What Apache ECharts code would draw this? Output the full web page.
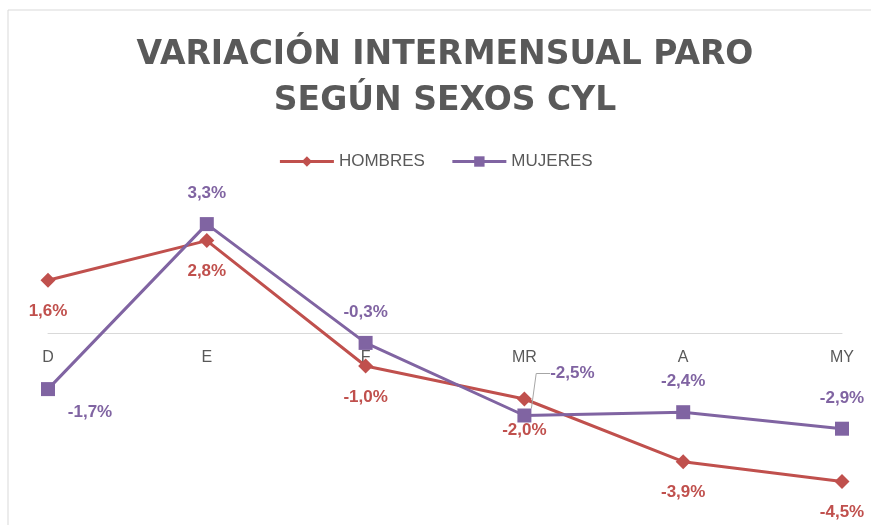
<!DOCTYPE html>
<html>
<head>
<meta charset="utf-8">
<script src="https://cdn.jsdelivr.net/npm/echarts@6/dist/echarts.min.js"></script>
<style>
  html, body { margin: 0; padding: 0; background: #fff; }
  #main { width: 871px; height: 525px; }
</style>
</head>
<body>
<div id="main"></div>
<script>
var months = ['D', 'E', 'F', 'MR', 'A', 'MY'];
var hombres = [1.6, 2.8, -1.0, -2.0, -3.9, -4.5];
var mujeres = [-1.7, 3.3, -0.3, -2.5, -2.4, -2.9];

var RED = '#c0504d';
var PURPLE = '#8064a2';
var GREY = '#595959';

function pct(p) {
  return p.value.toFixed(1).replace('.', ',') + '%';
}

// mujeres labels: most above the point, a couple pushed aside
var mujeresData = mujeres.map(function (v, i) {
  var item = { value: v };
  if (i === 0 || i === 3) {
    item.label = { position: 'inside' };
  }
  if (i === 3) {
    item.labelLine = { show: true };
  }
  return item;
});

var chart = echarts.init(document.getElementById('main'));
var option = {
  animation: false,
  title: {
    text: 'VARIACIÓN INTERMENSUAL PARO\nSEGÚN SEXOS CYL',
    left: 440,
    textAlign: 'center',
    top: 27,
    textStyle: {
      fontFamily: 'DejaVu Sans',
      fontWeight: 'bold',
      fontSize: 33,
      lineHeight: 46,
      color: GREY
    }
  },
  legend: {
    top: 148,
    left: 'center',
    itemWidth: 54,
    itemHeight: 13,
    itemGap: 26,
    lineStyle: { width: 3 },
    textStyle: { color: GREY, fontSize: 17, fontFamily: 'Liberation Sans' },
    data: ['HOMBRES', 'MUJERES']
  },
  graphic: [{
    type: 'rect',
    shape: { x: 8, y: 10, width: 900, height: 600 },
    style: { fill: 'none', stroke: '#d9d9d9', lineWidth: 1 },
    silent: true
  }],
  grid: { left: 48, right: 29, top: 201, bottom: 27 },
  xAxis: {
    type: 'category',
    boundaryGap: false,
    data: months,
    offset: -165,
    axisLine: { onZero: false, lineStyle: { color: '#d9d9d9', width: 1 } },
    axisTick: { show: false },
    axisLabel: { color: GREY, fontSize: 16, margin: 17, fontFamily: 'Liberation Sans' }
  },
  yAxis: {
    type: 'value',
    min: -5,
    max: 4,
    show: false
  },
  series: [{
    name: 'HOMBRES',
    type: 'line',
    data: hombres,
    symbol: 'diamond',
    symbolSize: 15,
    itemStyle: { color: RED },
    lineStyle: { color: RED, width: 3 },
    label: {
      show: true,
      position: 'bottom',
      distance: 15,
      formatter: pct,
      color: RED,
      fontWeight: 'bold',
      fontSize: 17,
      fontFamily: 'Liberation Sans'
    },
    z: 3
  }, {
    name: 'MUJERES',
    type: 'line',
    data: mujeresData,
    symbol: 'rect',
    symbolSize: 14,
    itemStyle: { color: PURPLE },
    lineStyle: { color: PURPLE, width: 3 },
    label: {
      show: true,
      position: 'top',
      distance: 15,
      formatter: pct,
      color: PURPLE,
      fontWeight: 'bold',
      fontSize: 17,
      fontFamily: 'Liberation Sans'
    },
    labelLine: {
      show: false,
      length2: 14,
      minTurnAngle: 90,
      lineStyle: { color: '#a6a6a6', width: 1 }
    },
    labelLayout: function (p) {
      if (p.dataIndex === 0) return { dx: 42, dy: 23 };
      if (p.dataIndex === 3) return { dx: 48, dy: -42 };
      return {};
    },
    z: 4
  }]
};
chart.setOption(option);
</script>
</body>
</html>
